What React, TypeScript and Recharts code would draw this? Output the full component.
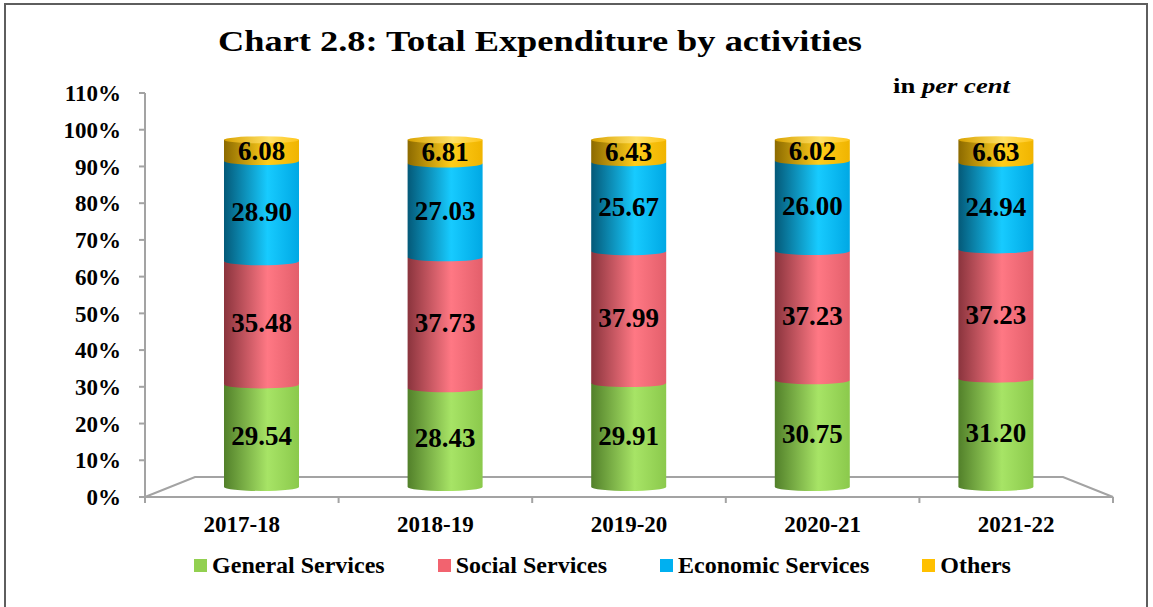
import React from 'react';
import { ComposedChart, Bar, Line, XAxis, YAxis, Legend, LabelList } from 'recharts';

const years = ['2017-18', '2018-19', '2019-20', '2020-21', '2021-22'];
const generalServices = [29.54, 28.43, 29.91, 30.75, 31.2];
const socialServices = [35.48, 37.73, 37.99, 37.23, 37.23];
const economicServices = [28.9, 27.03, 25.67, 26.0, 24.94];
const others = [6.08, 6.81, 6.43, 6.02, 6.63];
const yTicks = [0, 10, 20, 30, 40, 50, 60, 70, 80, 90, 100, 110];

const data = years.map((year, i) => ({
  year,
  general: generalServices[i],
  social: socialServices[i],
  economic: economicServices[i],
  others: others[i],
}));

const series = [
  { key: 'general', name: 'General Services', color: '#92D050', stops: ['#52802a', '#a7e466', '#8bc94c'] },
  { key: 'social', name: 'Social Services', color: '#F2636F', stops: ['#8a343d', '#ff7884', '#e35f6b'] },
  { key: 'economic', name: 'Economic Services', color: '#00B0F0', stops: ['#045978', '#17cbff', '#00a8e4'] },
  { key: 'others', name: 'Others', color: '#FFC000', stops: ['#8c6a00', '#ffcd1a', '#f0b400'] },
];

const W = 1153;
const H = 607;
// plot box (front plane of the floor)
const PLOT = { left: 145, top: 93, right: 1113, bottom: 497 };
const DEPTH = { dx: 50, dy: 20 };
const FONT = '"Liberation Serif", "Times New Roman", serif';
const AXIS_GREY = '#a3a3a3';

function Cylinder(props: any) {
  const { x, y, width, height, gradId, isTop } = props;
  if (width == null || height == null || height <= 0) return null;
  const rx = width / 2;
  const ry = 4;
  const d = `M${x},${y} L${x + width},${y} L${x + width},${y + height} A${rx},${ry} 0 0 1 ${x},${y + height} Z`;
  return (
    <g>
      <path d={d} fill={`url(#${gradId})`} />
      {isTop && <ellipse cx={x + rx} cy={y} rx={rx} ry={3.5} fill="url(#capGrad)" />}
    </g>
  );
}

function Floor() {
  const { left, right, bottom } = PLOT;
  const step = (right - left) / years.length;
  const pts = [
    [left, bottom],
    [right, bottom],
    [right - DEPTH.dx, bottom - DEPTH.dy],
    [left + DEPTH.dx, bottom - DEPTH.dy],
  ]
    .map((p) => p.join(','))
    .join(' ');
  return (
    <g>
      <polygon points={pts} fill="none" stroke={AXIS_GREY} strokeWidth={2} />
      {Array.from({ length: years.length + 1 }, (_, i) => (
        <line
          key={i}
          x1={left + i * step}
          x2={left + i * step}
          y1={bottom}
          y2={bottom + 6}
          stroke={AXIS_GREY}
          strokeWidth={2}
        />
      ))}
    </g>
  );
}

const fmt = (v: any) => Number(v).toFixed(2);

function LegendContent({ payload }: any) {
  const items = series
    .map((s) => (payload || []).find((p: any) => p.dataKey === s.key))
    .filter(Boolean);
  return (
    <div style={{ display: 'flex', justifyContent: 'center', gap: 53, fontFamily: FONT }}>
      {items.map((p: any) => (
        <div key={p.value} style={{ display: 'flex', alignItems: 'center' }}>
          <span style={{ width: 13, height: 13, background: p.color, marginRight: 5, display: 'inline-block' }} />
          <span style={{ fontSize: 24, fontWeight: 'bold', color: '#000' }}>{p.value}</span>
        </div>
      ))}
    </div>
  );
}

export default function App() {
  return (
    <div style={{ position: 'absolute', left: 0, top: 0, width: W, height: H, background: '#fff', overflow: 'hidden' }}>
      <div
        style={{
          position: 'absolute',
          left: 4,
          top: 3,
          width: W - 9,
          height: H + 10,
          border: '2px solid #5e5e5e',
          boxSizing: 'border-box',
        }}
      />
      <ComposedChart
        width={W}
        height={H}
        data={data}
        margin={{ top: PLOT.top, right: W - PLOT.right, bottom: H - PLOT.bottom - 40, left: PLOT.left - 80 }}
      >
        <defs>
          {series.map((s) => (
            <linearGradient key={s.key} id={`grad-${s.key}`} x1="0" y1="0" x2="1" y2="0">
              <stop offset="0%" stopColor={s.stops[0]} />
              <stop offset="58%" stopColor={s.stops[1]} />
              <stop offset="100%" stopColor={s.stops[2]} />
            </linearGradient>
          ))}
          <linearGradient id="capGrad" x1="0" y1="0" x2="1" y2="0">
            <stop offset="0%" stopColor="#d9a200" />
            <stop offset="60%" stopColor="#ffe066" />
            <stop offset="100%" stopColor="#ffc61a" />
          </linearGradient>
        </defs>
        <Floor />
        <text
          x={540}
          y={51}
          textAnchor="middle"
          fontFamily={FONT}
          fontWeight="bold"
          fontSize={30}
          textLength={644}
          lengthAdjust="spacingAndGlyphs"
          fill="#000"
        >
          Chart 2.8: Total Expenditure by activities
        </text>
        <text x={893} y={93} fontFamily={FONT} fontWeight="bold" fontSize={22} textLength={117} lengthAdjust="spacingAndGlyphs" fill="#000">
          in <tspan fontStyle="italic">per cent</tspan>
        </text>
        <XAxis
          xAxisId="front"
          dataKey="year"
          height={40}
          axisLine={false}
          tickLine={false}
          tickSize={6}
          tickMargin={13}
          tick={{ fontSize: 23, fontWeight: 'bold', fill: '#000', fontFamily: FONT }}
        />
        <XAxis xAxisId="bars" dataKey="year" hide orientation="top" padding={{ left: 25, right: 25 }} />
        <YAxis
          yAxisId="pct"
          width={80}
          domain={[0, 110]}
          ticks={yTicks}
          interval={0}
          tickFormatter={(v) => `${v}%`}
          axisLine={{ stroke: AXIS_GREY, strokeWidth: 2 }}
          tickLine={{ stroke: AXIS_GREY, strokeWidth: 2 }}
          tickSize={6}
          tickMargin={18}
          tick={{ fontSize: 23, fontWeight: 'bold', fill: '#000', fontFamily: FONT }}
        />
        <YAxis yAxisId="bars" hide orientation="right" domain={[-2.9, 113.5]} allowDataOverflow />
        {/* invisible series so the percentage axis gets its scale */}
        <Line
          xAxisId="front"
          yAxisId="pct"
          dataKey="others"
          stroke="none"
          dot={false}
          activeDot={false}
          legendType="none"
          isAnimationActive={false}
        />
        {series.map((s, i) => (
          <Bar
            key={s.key}
            dataKey={s.key}
            name={s.name}
            stackId="total"
            xAxisId="bars"
            yAxisId="bars"
            fill={s.color}
            barSize={75}
            isAnimationActive={false}
            shape={(p: any) => <Cylinder {...p} gradId={`grad-${s.key}`} isTop={i === series.length - 1} />}
          >
            <LabelList
              dataKey={s.key}
              position="center"
              formatter={fmt}
              fill="#000"
              fontSize={27}
              fontWeight="bold"
              fontFamily={FONT}
            />
          </Bar>
        ))}
        <Legend
          verticalAlign="middle"
          align="center"
          layout="horizontal"
          content={<LegendContent />}
          wrapperStyle={{ top: 552, left: 26, width: W, height: 30 }}
        />
      </ComposedChart>
    </div>
  );
}
